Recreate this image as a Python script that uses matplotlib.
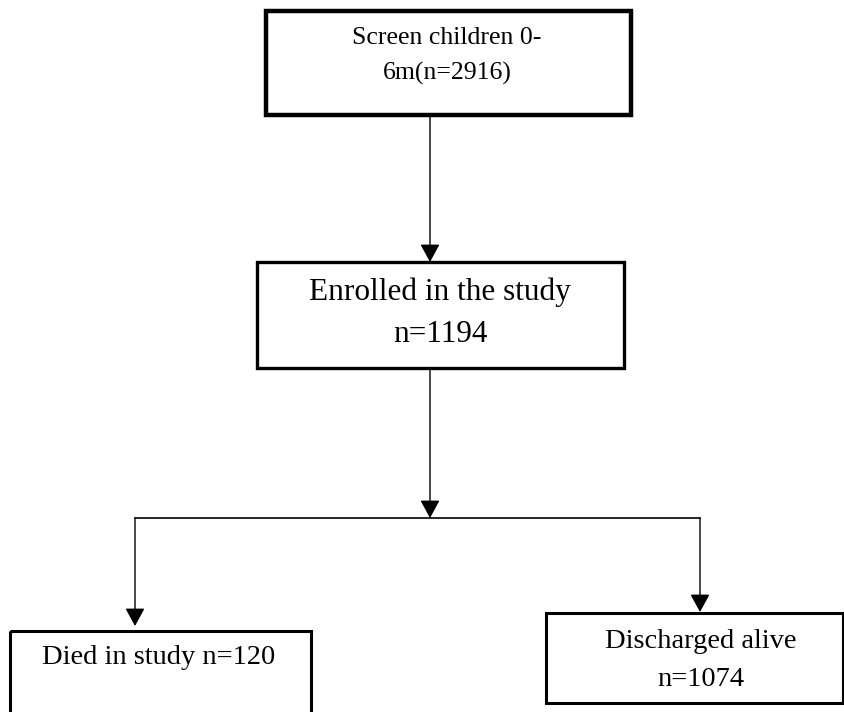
import matplotlib.pyplot as plt
from matplotlib.patches import Rectangle

# flowchart content
stages = ["Screen children 0-\n6m(n={})", "Enrolled in the study\nn={}",
          "Died in study n={}\n ", "Discharged alive\nn={}"]
counts = [2916, 1194, 120, 1074]

# box layout in pixels (x0, y0, x1, y1), y measured from the top
boxes = [(266, 11, 631, 115), (257, 262, 624, 368), (10, 631, 311, 730), (546, 613, 843, 703)]
fsizes = [18.5, 22.5, 20.5, 20.5]
lws = [3.2, 2.4, 2.2, 2.2]

plt.rcParams['font.family'] = ['Liberation Serif', 'DejaVu Serif']

fig = plt.figure(figsize=(8.44, 7.12), dpi=100)
ax = fig.add_axes([0, 0, 1, 1])
ax.set_xlim(0, 844)
ax.set_ylim(712, 0)
ax.axis('off')

for (x0, y0, x1, y1), lw in zip(boxes, lws):
    ax.add_patch(Rectangle((x0, y0), x1 - x0, y1 - y0, fill=False, ec='black', lw=lw))

# texts placed by line centres
lines = [s.format(n).split('\n') for s, n in zip(stages, counts)]
ax.text(447, 38, lines[0][0], ha='center', va='center', fontsize=fsizes[0])
ax.text(447, 73, lines[0][1], ha='center', va='center', fontsize=fsizes[0])
ax.text(440, 292, lines[1][0], ha='center', va='center', fontsize=fsizes[1])
ax.text(440, 334, lines[1][1], ha='center', va='center', fontsize=fsizes[1])
ax.text(159, 657, lines[2][0], ha='center', va='center', fontsize=fsizes[2])
ax.text(701, 641, lines[3][0], ha='center', va='center', fontsize=fsizes[3])
ax.text(701, 680, lines[3][1], ha='center', va='center', fontsize=fsizes[3])

# cropped heading letter at the top-left
ax.text(79, -12, "p", ha='center', va='center', fontsize=20, fontweight='bold')

arrow = dict(arrowstyle='-|>,head_length=1.1,head_width=0.6', color='black', lw=1.0,
             shrinkA=0, shrinkB=0)
ax.annotate("", xy=(430, 262), xytext=(430, 115), arrowprops=arrow)
ax.annotate("", xy=(430, 518), xytext=(430, 368), arrowprops=arrow)
ax.plot([135, 700], [518, 518], color='black', lw=1.2)
ax.annotate("", xy=(135, 626), xytext=(135, 518), arrowprops=arrow)
ax.annotate("", xy=(700, 612), xytext=(700, 518), arrowprops=arrow)

fig.savefig('out.png', dpi=100)
